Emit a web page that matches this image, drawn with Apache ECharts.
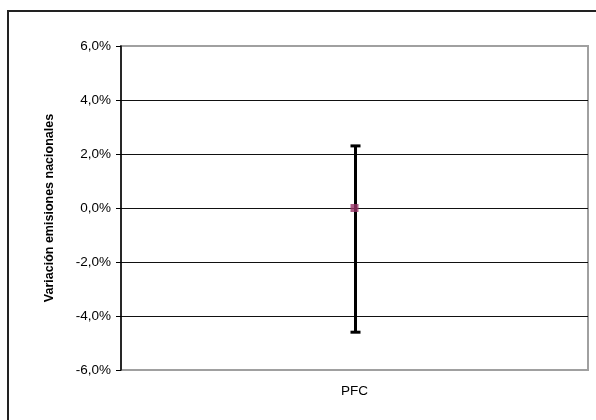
<!DOCTYPE html>
<html><head><meta charset="utf-8">
<script src="https://cdn.jsdelivr.net/npm/echarts@6/dist/echarts.min.js"></script>
<style>html,body{margin:0;padding:0;background:#fff}#c{width:596px;height:420px}</style>
</head><body><div id="c"></div>
<script>
var categories = ['PFC'];
var values = [0.0];
var errLow = [-4.6];
var errHigh = [2.3];
var yTicks = [-6, -4, -2, 0, 2, 4, 6];

var chart = echarts.init(document.getElementById('c'), null, {renderer: 'canvas'});
var fmt = function (v) { return v.toFixed(1).replace('.', ',') + '%'; };
chart.setOption({
  animation: false,
  textStyle: {fontFamily: 'Liberation Sans, Arial, sans-serif'},
  graphic: [{
    type: 'rect', shape: {x: 8, y: 11, width: 640, height: 460},
    style: {fill: null, stroke: '#222', lineWidth: 2}, z: -1
  }],
  grid: {left: 121, top: 46, right: 8, bottom: 50, show: true, borderColor: '#a0a0a0', borderWidth: 2, backgroundColor: '#fff'},
  xAxis: {
    type: 'category', data: categories,
    axisLine: {show: false}, axisTick: {show: false},
    axisLabel: {color: '#000', fontSize: 13.5, margin: 14}
  },
  yAxis: {
    type: 'value', min: yTicks[0], max: yTicks[yTicks.length - 1], interval: 2,
    name: 'Variación emisiones nacionales', nameLocation: 'middle', nameGap: 65,
    nameTextStyle: {color: '#000', fontSize: 12.5, fontWeight: 'bold'},
    axisLine: {show: true, lineStyle: {color: '#000', width: 1.5}},
    axisTick: {show: true, length: 5, lineStyle: {color: '#000'}},
    axisLabel: {color: '#000', fontSize: 13.5, margin: 10, formatter: fmt},
    splitLine: {show: true, showMinLine: false, showMaxLine: false, lineStyle: {color: '#111', width: 1}}
  },
  series: [{
    type: 'custom',
    data: categories.map(function (c, i) { return [i, errLow[i], errHigh[i]]; }),
    renderItem: function (params, api) {
      var lo = api.coord([api.value(0), api.value(1)]);
      var hi = api.coord([api.value(0), api.value(2)]);
      var x = Math.round(lo[0]) + 0.5;
      var cap = 5;
      var st = {stroke: '#000', lineWidth: 3};
      return {type: 'group', children: [
        {type: 'line', shape: {x1: x, y1: lo[1], x2: x, y2: hi[1]}, style: st},
        {type: 'line', shape: {x1: x - cap, y1: lo[1], x2: x + cap, y2: lo[1]}, style: st},
        {type: 'line', shape: {x1: x - cap, y1: hi[1], x2: x + cap, y2: hi[1]}, style: st}
      ]};
    },
    z: 2
  }, {
    type: 'scatter', data: values, symbol: 'rect', symbolSize: 8,
    itemStyle: {color: '#993366'}, z: 3
  }]
});
</script></body></html>
